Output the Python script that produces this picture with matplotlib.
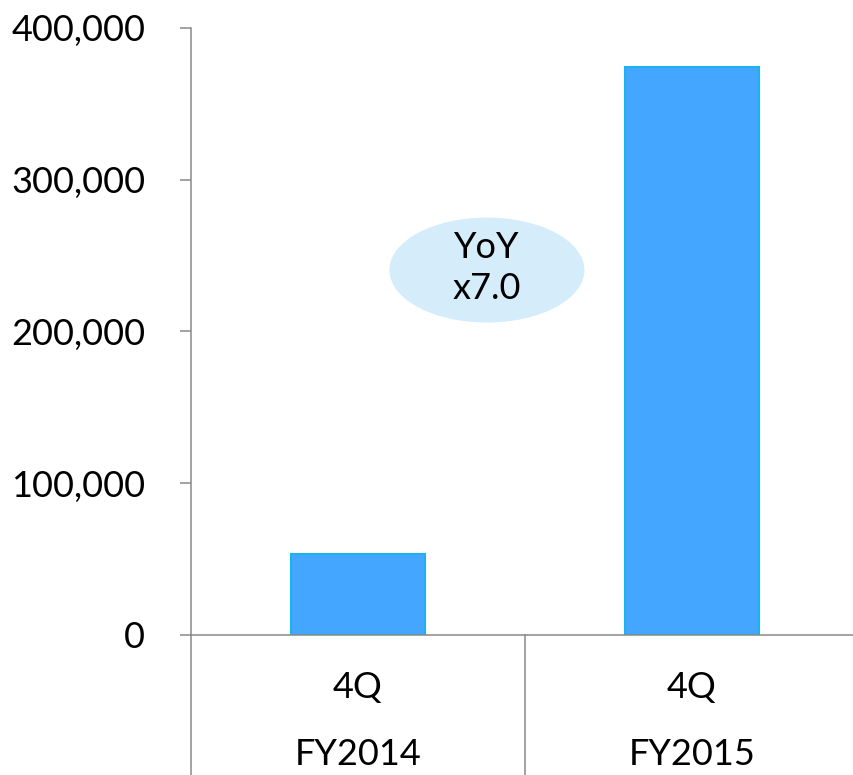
import matplotlib.pyplot as plt
from matplotlib.patches import Ellipse
from matplotlib.ticker import FuncFormatter

# data
periods = ['4Q', '4Q']
years = ['FY2014', 'FY2015']
values = [53500, 374500]
yoy_text = 'YoY\nx7.0'

bar_color = '#44A6FF'
edge_color = '#1AB2F0'
axis_color = '#898989'

plt.rcParams['font.family'] = ['Lato', 'DejaVu Sans']

fig = plt.figure(figsize=(8.54, 7.75), dpi=100)
ax = fig.add_axes([191 / 854, 140 / 775, 668 / 854, 607 / 775])

xs = [i + 0.5 for i in range(len(values))]
ax.bar(xs, values, width=0.40, color=bar_color, edgecolor=edge_color, linewidth=1.5, zorder=2)

ax.set_xlim(0, len(values))
ax.set_ylim(0, 400000)
ax.set_yticks([0, 100000, 200000, 300000, 400000])
ax.yaxis.set_major_formatter(FuncFormatter(lambda v, p: f'{int(v):,}'))
ax.tick_params(axis='y', direction='out', length=8, width=1.1, color=axis_color,
               pad=25, labelsize=26)
ax.set_xticks([])

for s in ['top', 'right']:
    ax.spines[s].set_visible(False)
for s in ['left', 'bottom']:
    ax.spines[s].set_color(axis_color)
    ax.spines[s].set_linewidth(1.1)

# category separators below the axis
trans = ax.get_xaxis_transform()
for xv in range(len(values) + 1):
    ax.plot([xv, xv], [0, -0.25], transform=trans, color=axis_color, lw=1.1, clip_on=False)

# category labels
for x, p, yr in zip(xs, periods, years):
    ax.annotate(p, (x, 0), xycoords=('data', 'axes fraction'), xytext=(0, -38),
                textcoords='offset points', ha='center', va='center', fontsize=26)
    ax.annotate(yr, (x, 0), xycoords=('data', 'axes fraction'), xytext=(0, -86),
                textcoords='offset points', ha='center', va='center', fontsize=26)

# YoY bubble
ax.add_patch(Ellipse((0.886, 240500), 0.584, 69200, facecolor='#D5ECFB', edgecolor='none', zorder=3))
ax.text(0.886, 242000, yoy_text, ha='center', va='center', fontsize=26,
        linespacing=1.3, zorder=4)

fig.savefig('out.png', dpi=100)
